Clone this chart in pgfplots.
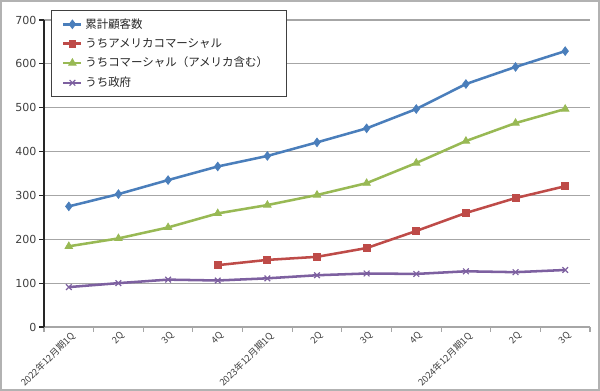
\documentclass[border=0pt]{standalone}
\usepackage{fontspec}
\setmainfont{Noto Sans CJK JP}
\newfontfamily\numfont{DejaVu Sans}
\usepackage{pgfplots}
\pgfplotsset{compat=1.18}
\definecolor{cblue}{HTML}{4A7EBB}
\definecolor{cred}{HTML}{BE4B48}
\definecolor{cgreen}{HTML}{98B954}
\definecolor{cpurple}{HTML}{7D60A0}
\definecolor{gridc}{HTML}{A6A6A6}
\definecolor{txt}{HTML}{404040}
\begin{document}
\begin{tikzpicture}
\useasboundingbox (0pt,0pt) rectangle (450pt,293.25pt);
\draw[gray!60, line width=1.2pt] (0.75pt,0.75pt) rectangle (449.25pt,292.5pt);
\begin{axis}[
  at={(33pt,48pt)}, anchor=south west, scale only axis,
  width=409.5pt, height=230.25pt,
  xmin=-0.5, xmax=10.5, ymin=0, ymax=700,
  ytick={0,100,...,700},
  xtick={0,...,10},
  xticklabels={2022年12月期1Q,2Q,3Q,4Q,2023年12月期1Q,2Q,3Q,4Q,2024年12月期1Q,2Q,3Q},
  minor xtick={-0.5,0.5,...,10.5},
  major x tick style={draw=none},
  tick align=outside,
  major tick length=3.5pt, minor tick length=3.5pt,
  axis x line*=bottom, axis y line*=left,
  x axis line style={gridc, line width=0.8pt},
  y axis line style={black!85, line width=0.9pt},
  ytick style={black!85, line width=0.8pt},
  minor x tick style={gridc, line width=0.8pt},
  ymajorgrids, grid style={gridc, line width=0.8pt},
  /pgf/number format/assume math mode=true,
  yticklabel style={font=\numfont\fontsize{8.3}{10}\selectfont, text=txt, inner sep=2pt},
  xticklabel style={rotate=45, anchor=north east, font=\fontsize{7}{8}\selectfont, text=txt, inner sep=1pt, xshift=2pt, yshift=1pt},
  legend style={at={(0.0128,1.0326)}, anchor=north west, draw=black!75, line width=0.7pt,
    font=\fontsize{8.6}{10}\selectfont, text=black!85, row sep=2pt,
    inner xsep=8pt, inner ysep=4pt},
  legend cell align=left,
  legend image code/.code={\draw[mark repeat=2, mark phase=2] plot coordinates {(0pt,0pt) (6.75pt,0pt) (13.5pt,0pt)};},
  every axis plot/.append style={line width=1.9pt},
]
\addplot[cblue, mark=diamond*, mark size=3.2pt, mark options={solid, line width=0.6pt}]
 coordinates {(0,275)(1,303)(2,335)(3,366)(4,390)(5,421)(6,453)(7,497)(8,554)(9,593)(10,629)};
\addlegendentry{\makebox[141pt][l]{累計顧客数}}
\addplot[cred, mark=square*, mark size=2.6pt, mark options={solid, line width=0.6pt}]
 coordinates {(3,141)(4,153)(5,160)(6,180)(7,219)(8,260)(9,294)(10,321)};
\addlegendentry{うちアメリカコマーシャル}
\addplot[cgreen, mark=triangle*, mark size=3.2pt, mark options={solid, line width=0.6pt}]
 coordinates {(0,184)(1,202)(2,227)(3,259)(4,278)(5,301)(6,328)(7,374)(8,424)(9,465)(10,497)};
\addlegendentry{うちコマーシャル（アメリカ含む）}
\addplot[cpurple, mark=x, mark size=3pt, mark options={solid, line width=0.9pt}]
 coordinates {(0,91)(1,100)(2,108)(3,106)(4,111)(5,118)(6,122)(7,121)(8,127)(9,125)(10,130)};
\addlegendentry{うち政府}
\end{axis}
\end{tikzpicture}
\end{document}
